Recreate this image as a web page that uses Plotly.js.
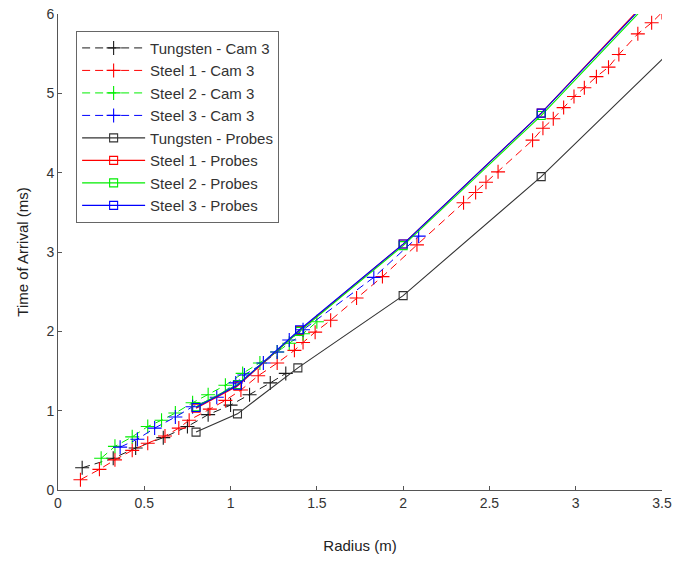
<!DOCTYPE html>
<html>
<head>
<meta charset="utf-8">
<script src="https://cdn.plot.ly/plotly-3.0.1.min.js"></script>
<style>
html,body{margin:0;padding:0;background:#fff;}
#chart{width:676px;height:561px;}
</style>
</head>
<body>
<div id="chart"></div>
<script>
// ---- Data ----
const tungCamR = [0.14, 0.32, 0.45, 0.61, 0.75, 0.87, 1.00, 1.11, 1.23, 1.32];
const tungCamT = [0.28, 0.40, 0.53, 0.66, 0.80, 0.95, 1.07, 1.20, 1.35, 1.47];

const steel1CamR = [0.13, 0.24, 0.33, 0.43, 0.52, 0.62, 0.70, 0.76, 0.88, 0.97, 1.06, 1.16, 1.27, 1.37, 1.42, 1.49, 1.58, 1.73, 1.88, 2.08, 2.35, 2.42, 2.48, 2.55, 2.75, 2.81, 2.87, 2.93, 2.99, 3.05, 3.12, 3.19, 3.25, 3.36, 3.44, 3.50];
const steel1CamT = [0.13, 0.26, 0.38, 0.50, 0.59, 0.68, 0.78, 0.88, 1.02, 1.13, 1.26, 1.44, 1.60, 1.76, 1.86, 1.99, 2.14, 2.42, 2.69, 3.09, 3.62, 3.75, 3.88, 4.01, 4.41, 4.56, 4.68, 4.82, 4.96, 5.07, 5.21, 5.33, 5.49, 5.75, 5.89, 6.02];

const steel2CamR = [0.25, 0.33, 0.43, 0.52, 0.60, 0.68, 0.78, 0.87, 0.97, 1.07, 1.17, 1.27, 1.34, 1.42, 1.50];
const steel2CamT = [0.40, 0.55, 0.67, 0.80, 0.88, 0.97, 1.10, 1.20, 1.32, 1.47, 1.60, 1.74, 1.85, 1.97, 2.12];

const steel3CamR = [0.36, 0.46, 0.56, 0.68, 0.78, 0.92, 1.03, 1.08, 1.19, 1.27, 1.34, 1.42, 1.83, 2.09];
const steel3CamT = [0.54, 0.64, 0.78, 0.92, 1.05, 1.17, 1.35, 1.45, 1.60, 1.74, 1.89, 2.02, 2.68, 3.20];

const tungProbeR = [0.80, 1.04, 1.39, 2.00, 2.80, 3.80];
const tungProbeT = [0.73, 0.96, 1.54, 2.45, 3.95, 6.06];

const steelProbeR = [0.80, 1.04, 1.40, 2.00, 2.80, 3.60];
const steel1ProbeT = [1.03, 1.31, 2.01, 3.10, 4.75, 6.60];
const steel2ProbeT = [1.05, 1.33, 2.00, 3.08, 4.72, 6.55];
const steel3ProbeT = [1.04, 1.32, 2.02, 3.10, 4.75, 6.58];

const xTicks = [0, 0.5, 1, 1.5, 2, 2.5, 3, 3.5];
const xTickText = ['0', '0.5', '1', '1.5', '2', '2.5', '3', '3.5'];
const yTicks = [0, 1, 2, 3, 4, 5, 6];

const seriesNames = ['Tungsten - Cam 3', 'Steel 1 - Cam 3', 'Steel 2 - Cam 3', 'Steel 3 - Cam 3',
                     'Tungsten - Probes', 'Steel 1 - Probes', 'Steel 2 - Probes', 'Steel 3 - Probes'];

// ---- Styles ----
const BLACK = '#1a1a1a', RED = '#ff0000', GREEN = '#00ee00', BLUE = '#0000ff';
const DASH = '8px,5px';

function camTrace(x, y, name, color) {
  return {
    x: x, y: y, name: name, type: 'scatter', mode: 'lines+markers',
    line: {color: color, width: 1, dash: DASH},
    marker: {symbol: 'cross-thin-open', size: 10, color: color, line: {color: color, width: 1.1}}
  };
}
function probeTrace(x, y, name, color) {
  return {
    x: x, y: y, name: name, type: 'scatter', mode: 'lines+markers',
    line: {color: color, width: 1.1},
    marker: {symbol: 'square-open', size: 8, color: color, line: {color: color, width: 1.1}}
  };
}

const data = [
  camTrace(tungCamR, tungCamT, seriesNames[0], BLACK),
  camTrace(steel1CamR, steel1CamT, seriesNames[1], RED),
  camTrace(steel2CamR, steel2CamT, seriesNames[2], GREEN),
  camTrace(steel3CamR, steel3CamT, seriesNames[3], BLUE),
  probeTrace(tungProbeR, tungProbeT, seriesNames[4], '#333333'),
  probeTrace(steelProbeR, steel1ProbeT, seriesNames[5], RED),
  probeTrace(steelProbeR, steel2ProbeT, seriesNames[6], GREEN),
  probeTrace(steelProbeR, steel3ProbeT, seriesNames[7], BLUE)
];

const FONT = 'Liberation Sans, Arial, sans-serif';
const layout = {
  width: 676, height: 561,
  margin: {l: 58, r: 14, t: 14, b: 71},
  paper_bgcolor: '#ffffff', plot_bgcolor: '#ffffff',
  font: {family: FONT, size: 14, color: '#333333'},
  showlegend: true,
  legend: {
    x: 0.03, y: 0.965, xanchor: 'left', yanchor: 'top',
    bordercolor: '#666666', borderwidth: 1, bgcolor: '#ffffff',
    font: {family: FONT, size: 15, color: '#333333'},
    tracegroupgap: 0, itemwidth: 63
  },
  xaxis: {
    range: [0, 3.5], tickvals: xTicks, ticktext: xTickText,
    ticks: 'inside', ticklen: 4, tickcolor: '#555555',
    showline: true, linecolor: '#555555', linewidth: 1,
    showgrid: false, zeroline: false, mirror: false,
    tickfont: {family: FONT, size: 14, color: '#333333'},
    title: {text: 'Radius (m)', font: {family: FONT, size: 15, color: '#222222'}, standoff: 30}
  },
  yaxis: {
    range: [0, 6], tickvals: yTicks,
    ticks: 'inside', ticklen: 4, tickcolor: '#555555',
    showline: true, linecolor: '#555555', linewidth: 1,
    showgrid: false, zeroline: false, mirror: false,
    tickfont: {family: FONT, size: 14, color: '#333333'},
    title: {text: 'Time of Arrival (ms)', font: {family: FONT, size: 15, color: '#222222'}, standoff: 14}
  }
};

Plotly.newPlot('chart', data, layout, {displayModeBar: false, staticPlot: true});
</script>
</body>
</html>
